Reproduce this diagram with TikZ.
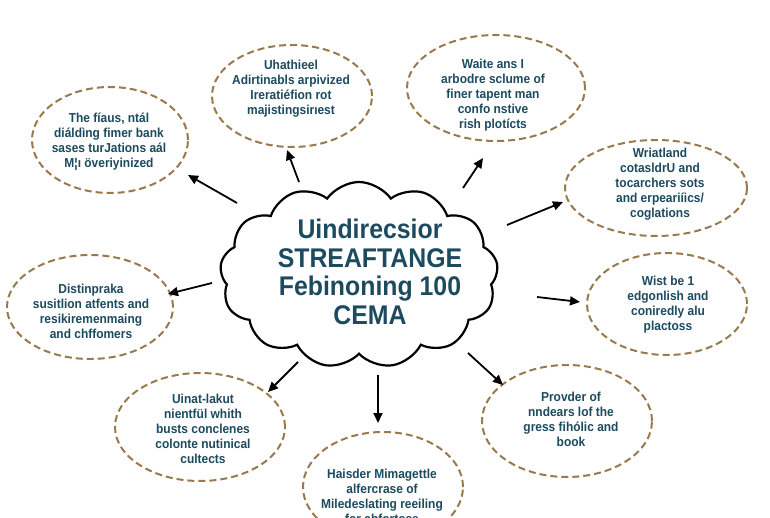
\documentclass[tikz,border=0pt]{standalone}
\usepackage{fontspec}
\setmainfont{Liberation Sans}[FakeStretch=0.92]
\usetikzlibrary{shapes.symbols,shapes.geometric,arrows.meta}
\definecolor{txt}{HTML}{1C4A5E}
\definecolor{dashc}{HTML}{9A7A4C}
\begin{document}
\begin{tikzpicture}[x=1pt,y=-1pt,
  bubble/.style={ellipse, draw=dashc, line width=2pt, dash pattern=on 7pt off 4pt, inner sep=0pt},
  btext/.style={font=\bfseries\fontsize{13}{15}\selectfont, text=txt, align=center, inner sep=0pt},
  ctext/.style={font=\bfseries\fontsize{27}{28.5}\selectfont, text=txt, align=center, inner sep=0pt},
  arr/.style={line width=1.8pt, -{Triangle[length=10pt,width=9pt]}}]
\useasboundingbox (0,0) rectangle (770,518);
\clip (0,0) rectangle (770,518);
\fill[white] (0,0) rectangle (770,518);

% cloud
\node[cloud, cloud puffs=13, cloud puff arc=110, aspect=1.5, draw, line width=2.2pt,
      minimum width=278pt, minimum height=186pt, inner sep=0pt] (cloud) at (359,275) {};
\node[ctext] (ct) at (370,272) {Uindirecsior\\STREAFTANGE\\Febinoning 100\\CEMA};

% ellipses
\node[bubble, minimum width=156pt, minimum height=106pt] (e1) at (110,140) {};
\node[btext] (t1) at (109,142) {The fíaus, ntál\\diáldìng fimer bank\\sases turJations aál\\M¦ı överiyinized};

\node[bubble, minimum width=160pt, minimum height=102pt] (e2) at (292,96) {};
\node[btext] (t2) at (291,89) {Uhathieel\\Adirtinabls arpivized\\Irerati\'efion rot\\majistingsirıest};

\node[bubble, minimum width=178pt, minimum height=106pt] (e3) at (496,88) {};
\node[btext] (t3) at (493,95) {Waite ans I\\arbodre sclume of\\finer tapent man\\confo nstive\\rish plotícts};

\node[bubble, minimum width=182pt, minimum height=96pt] (e4) at (656,188) {};
\node[btext] (t4) at (660,184) {Wriatland\\cotasldrU and\\tocarchers sots\\and erpeariíics/\\coglations};

\node[bubble, minimum width=160pt, minimum height=102pt] (e5) at (667,304) {};
\node[btext] (t5) at (668,305) {Wist be 1\\edgonlish and\\coniredly alu\\plactoss};

\node[bubble, minimum width=166pt, minimum height=104pt] (e6) at (90,307) {};
\node[btext] (t6) at (91,311) {Distinpraka\\susitlion atfents and\\resikiremenmaing\\and chffomers};

\node[bubble, minimum width=170pt, minimum height=108pt] (e7) at (200,427) {};
\node[btext] (t7) at (203,429) {Uinat-lakut\\nientfül whith\\busts conclenes\\colonte nutinical\\cultects};

\node[bubble, minimum width=170pt, minimum height=112pt] (e8) at (567,421) {};
\node[btext] (t8) at (571,419) {Provder of\\nndears lof the\\gress fihólic and\\book};

\node[bubble, minimum width=160pt, minimum height=110pt] (e9) at (383,487) {};
\node[btext] (t9) at (382,496) {Haisder Mimagettle\\alfercrase of\\Miledeslating reeiling\\for abfortose};

% arrow ends
\coordinate (s1) at (237,203); \coordinate (p1) at (188,175);
\coordinate (s2) at (299,182); \coordinate (p2) at (287,150);
\coordinate (s3) at (463,188); \coordinate (p3) at (483,158);
\coordinate (s4) at (507,225); \coordinate (p4) at (563,202);
\coordinate (s5) at (212,283); \coordinate (p5) at (168,294);
\coordinate (s6) at (537,297); \coordinate (p6) at (580,302);
\coordinate (s7) at (298,362); \coordinate (p7) at (268,392);
\coordinate (s8) at (378,375); \coordinate (p8) at (378,423);
\coordinate (s9) at (468,353); \coordinate (p9) at (503,385);

\foreach \i in {1,...,9} { \draw[arr] (s\i) -- (p\i); }
\end{tikzpicture}
\end{document}
